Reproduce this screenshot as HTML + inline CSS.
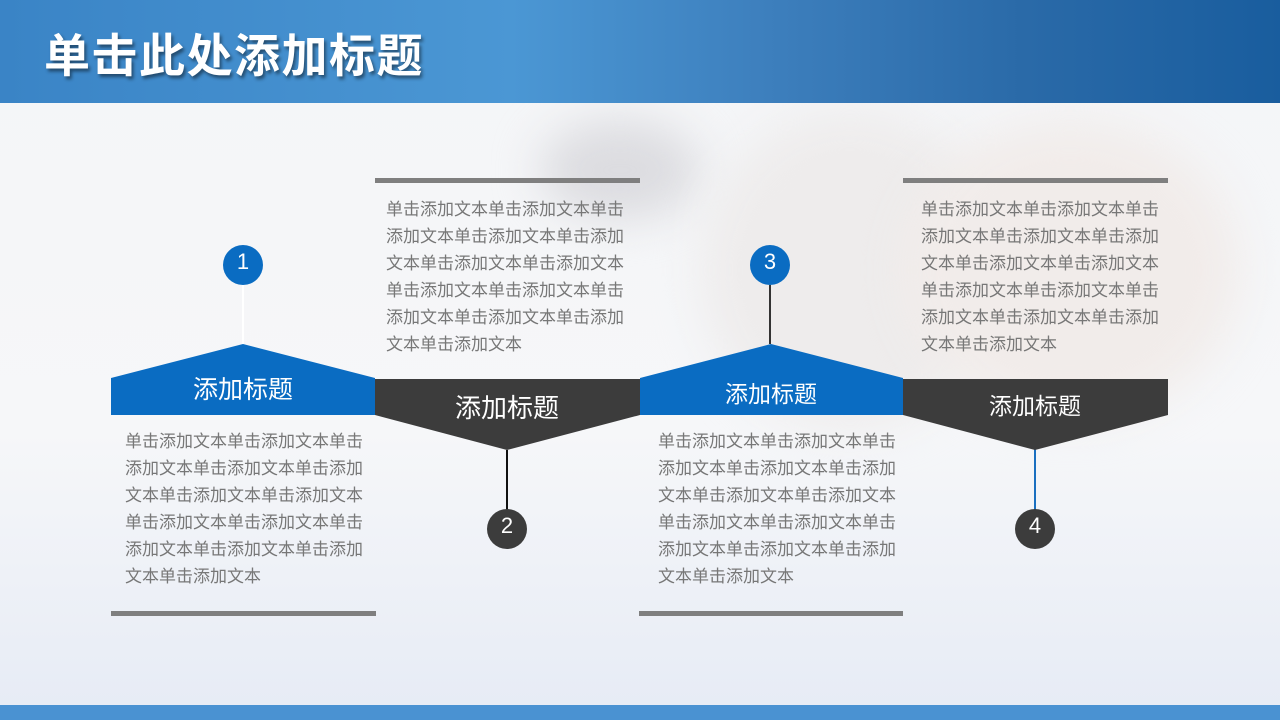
<!DOCTYPE html>
<html><head><meta charset="utf-8"><style>
body{margin:0;width:1280px;height:720px;overflow:hidden;position:relative;font-family:"Liberation Sans","Noto Sans CJK SC",sans-serif;
background:linear-gradient(180deg,#f4f5f7 0%,#f6f7f9 60%,#e6ebf5 100%);}
.hdr{position:absolute;left:0;top:0;width:1280px;height:103px;background:linear-gradient(90deg,#3a84c6 0%,#4b97d4 40%,#3d7fbd 60%,#2a6aa8 80%,#195d9e 100%);}
.title{position:absolute;left:44px;top:28px;font-size:46px;font-weight:bold;color:#fff;text-shadow:2px 3px 3px rgba(0,0,0,.45);letter-spacing:1.5px;line-height:56px}
.blob{position:absolute;border-radius:50%;filter:blur(22px)}
.t{position:absolute;color:#777;font-size:17px;line-height:27px;white-space:nowrap;letter-spacing:0px}
.bar{position:absolute;background:#7f7f7f;height:5px}
.lbl{position:absolute;color:#fff;text-align:center;width:264px}
.c{position:absolute;width:40px;height:40px;border-radius:50%;color:#fff;font-size:22px;text-align:center;line-height:34px}
.foot{position:absolute;left:0;top:705px;width:1280px;height:15px;background:#4a92d2}
</style></head><body>
<div class="blob" style="left:540px;top:120px;width:160px;height:100px;background:#dcdce0"></div>
<div class="blob" style="left:700px;top:110px;width:300px;height:320px;background:#eeecec"></div>
<div class="blob" style="left:900px;top:120px;width:340px;height:300px;background:#f1ecea"></div>
<div class="hdr"></div>
<div class="title">单击此处添加标题</div>
<svg style="position:absolute;left:0;top:0" width="1280" height="720">
<line x1="243" y1="285" x2="243" y2="344" stroke="#fff" stroke-width="2"/>
<line x1="770" y1="285" x2="770" y2="344" stroke="#333" stroke-width="2"/>
<line x1="507" y1="450" x2="507" y2="510" stroke="#111" stroke-width="2"/>
<line x1="1035" y1="432" x2="1035" y2="510" stroke="#1a6fc0" stroke-width="2"/>
<polygon points="111,378 243,344 375,378 375,415 111,415" fill="#0a6cc2"/>
<polygon points="375,379 640,379 640,415 507,450 375,415" fill="#3c3c3c"/>
<polygon points="640,378 771,344 903,378 903,415 640,415" fill="#0a6cc2"/>
<polygon points="903,379 1168,379 1168,415 1035,450 903,415" fill="#3c3c3c"/>
</svg>
<div class="c" style="left:223px;top:245px;background:#0a6cc2">1</div>
<div class="c" style="left:750px;top:245px;background:#0a6cc2">3</div>
<div class="c" style="left:487px;top:509px;background:#3c3c3c">2</div>
<div class="c" style="left:1015px;top:509px;background:#3c3c3c">4</div>
<div class="lbl" style="left:111px;top:370px;font-size:25px">添加标题</div>
<div class="lbl" style="left:375px;top:388px;font-size:26px">添加标题</div>
<div class="lbl" style="left:639px;top:375px;font-size:23px">添加标题</div>
<div class="lbl" style="left:903px;top:387px;font-size:23px">添加标题</div>
<div class="bar" style="left:375px;top:178px;width:265px"></div>
<div class="bar" style="left:903px;top:178px;width:265px"></div>
<div class="bar" style="left:111px;top:611px;width:265px"></div>
<div class="bar" style="left:639px;top:611px;width:264px"></div>
<div class="t" style="left:386px;top:196px">单击添加文本单击添加文本单击<br>添加文本单击添加文本单击添加<br>文本单击添加文本单击添加文本<br>单击添加文本单击添加文本单击<br>添加文本单击添加文本单击添加<br>文本单击添加文本</div>
<div class="t" style="left:921px;top:196px">单击添加文本单击添加文本单击<br>添加文本单击添加文本单击添加<br>文本单击添加文本单击添加文本<br>单击添加文本单击添加文本单击<br>添加文本单击添加文本单击添加<br>文本单击添加文本</div>
<div class="t" style="left:125px;top:428px">单击添加文本单击添加文本单击<br>添加文本单击添加文本单击添加<br>文本单击添加文本单击添加文本<br>单击添加文本单击添加文本单击<br>添加文本单击添加文本单击添加<br>文本单击添加文本</div>
<div class="t" style="left:658px;top:428px">单击添加文本单击添加文本单击<br>添加文本单击添加文本单击添加<br>文本单击添加文本单击添加文本<br>单击添加文本单击添加文本单击<br>添加文本单击添加文本单击添加<br>文本单击添加文本</div>
<div class="foot"></div>
</body></html>
